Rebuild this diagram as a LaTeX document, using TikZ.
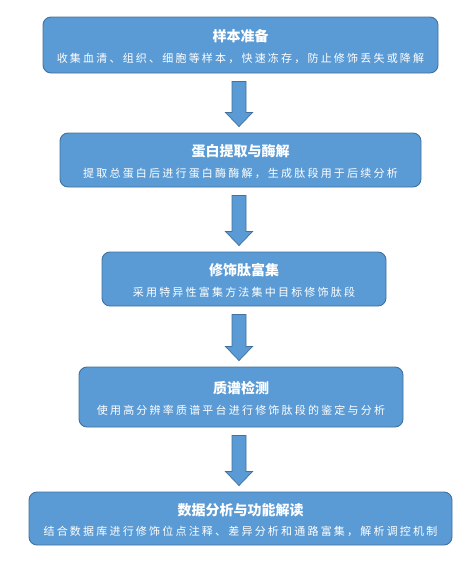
\documentclass[tikz,border=0pt]{standalone}
\usepackage{fontspec}
\usetikzlibrary{calc}
\newfontfamily\cjk[LetterSpace=20]{Noto Sans CJK SC}
\newfontfamily\cjktitle{Noto Sans CJK SC}
\definecolor{boxblue}{HTML}{5B9BD5}
\definecolor{boxedge}{HTML}{41719C}
\tikzset{
  stagebox/.style={draw=boxedge, line width=0.9pt, fill=boxblue, rounded corners=8pt, inner sep=0pt},
  stagetitle/.style={text=white, font=\cjktitle\bfseries\fontsize{14}{16}\selectfont, inner sep=0pt},
  stagetext/.style={text=white, font=\cjk\fontsize{11}{13}\selectfont, inner sep=0pt},
  flowarrow/.style={draw=boxedge, line width=0.7pt, fill=boxblue, line join=miter}
}
\newcommand{\flowarr}[2]{%
  \draw[flowarrow] let \p1=(ax |- #1.south), \p2=(ax |- #2.north) in
    (\x1-7pt,\y1-8pt) -- (\x1+7pt,\y1-8pt) -- (\x1+7pt,\y2+20pt) -- (\x1+13.5pt,\y2+20pt)
    -- (\x1,\y2+6pt) -- (\x1-13.5pt,\y2+20pt) -- (\x1-7pt,\y2+20pt) -- cycle;}
\begin{document}
\begin{tikzpicture}[x=1pt,y=-1pt]
\useasboundingbox (0,0) rectangle (466,562);
\coordinate (ax) at (239,0);

\node[stagebox, minimum width=395pt, minimum height=56pt] (b1) at (240.5,45) {};
\node[stagetitle] (t1) at ($(b1.center)+(0,-9)$) {样本准备};
\node[stagetext] (s1) at ($(b1.center)+(0,13)$) {收集血清、组织、细胞等样本，快速冻存，防止修饰丢失或降解};

\node[stagebox, minimum width=361pt, minimum height=54pt] (b2) at (240.5,160) {};
\node[stagetitle] (t2) at ($(b2.center)+(0,-9)$) {蛋白提取与酶解};
\node[stagetext] (s2) at ($(b2.center)+(0,13)$) {提取总蛋白后进行蛋白酶酶解，生成肽段用于后续分析};

\node[stagebox, minimum width=284pt, minimum height=54pt] (b3) at (244,279) {};
\node[stagetitle] (t3) at ($(b3.center)+(0,-9)$) {修饰肽富集};
\node[stagetext] (s3) at ($(b3.center)+(0,13)$) {采用特异性富集方法集中目标修饰肽段};

\node[stagebox, minimum width=324pt, minimum height=60pt] (b4) at (241,397) {};
\node[stagetitle] (t4) at ($(b4.center)+(0,-9)$) {质谱检测};
\node[stagetext] (s4) at ($(b4.center)+(0,13)$) {使用高分辨率质谱平台进行修饰肽段的鉴定与分析};

\node[stagebox, minimum width=423pt, minimum height=53pt] (b5) at (240.5,518.5) {};
\node[stagetitle] (t5) at ($(b5.center)+(0,-8)$) {数据分析与功能解读};
\node[stagetext] (s5) at ($(b5.center)+(0,13)$) {结合数据库进行修饰位点注释、差异分析和通路富集，解析调控机制};

\flowarr{b1}{b2}
\flowarr{b2}{b3}
\flowarr{b3}{b4}
\flowarr{b4}{b5}
\end{tikzpicture}
\end{document}
